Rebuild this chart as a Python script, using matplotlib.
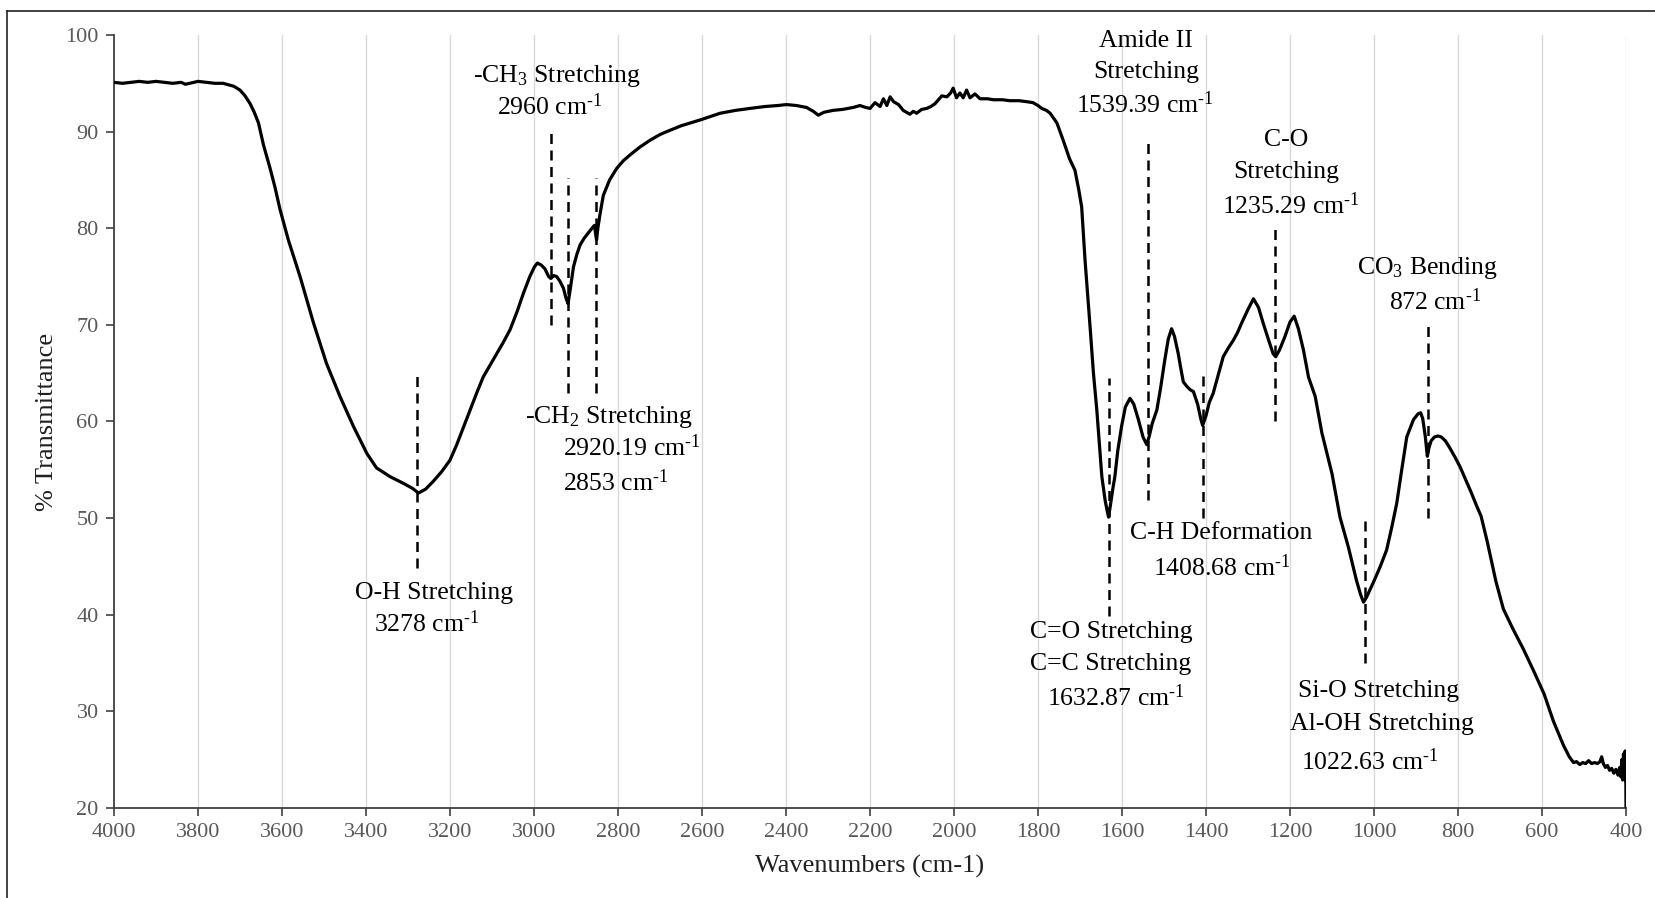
import matplotlib
matplotlib.use("Agg")
import matplotlib.pyplot as plt
from matplotlib.lines import Line2D

plt.rcParams['font.family'] = ['Liberation Serif', 'DejaVu Serif']
plt.rcParams['mathtext.fontset'] = 'custom'
plt.rcParams['mathtext.rm'] = 'Liberation Serif'
plt.rcParams['mathtext.it'] = 'Liberation Serif:italic'
plt.rcParams['mathtext.bf'] = 'Liberation Serif:bold'

# ---------------- data ----------------
wavenumber = [
    4000, 3980, 3960, 3940, 3920, 3900, 3880, 3860, 3840, 3830, 3820, 3800, 3780, 3760,
    3740, 3732, 3715, 3700, 3688, 3676, 3666, 3656, 3644, 3629, 3617, 3605, 3585, 3557,
    3525, 3494, 3462, 3430, 3398, 3375, 3343, 3311, 3290, 3275, 3258,
    3240, 3220, 3200, 3184, 3168, 3152, 3136, 3121, 3105, 3089, 3073, 3057, 3040,
    3025, 3010, 2999, 2992, 2983, 2974, 2965, 2960, 2953, 2946, 2938, 2930, 2924, 2919,
    2914, 2906, 2898, 2890, 2880, 2871, 2862, 2856, 2853, 2851, 2848, 2843, 2835, 2820,
    2803, 2787, 2771, 2748, 2724, 2700, 2684, 2650, 2605, 2557, 2520, 2486, 2450, 2420,
    2399, 2375, 2351, 2335, 2323, 2310, 2288, 2265, 2240, 2224, 2210, 2200, 2188, 2176,
    2168, 2160, 2152, 2144, 2132, 2121, 2105, 2097, 2089, 2077, 2065, 2055, 2045, 2037,
    2029, 2017, 2008, 2002, 1994, 1986, 1978, 1970, 1962, 1950, 1938, 1920, 1906, 1885,
    1867, 1845, 1827, 1812, 1800, 1791, 1780, 1771, 1755, 1740, 1725, 1712, 1703, 1696,
    1688, 1676, 1668, 1660, 1648, 1640, 1636, 1632, 1627, 1622, 1617, 1610, 1601, 1592,
    1581, 1572, 1561, 1550, 1541, 1535, 1528, 1517, 1508, 1498, 1490, 1482, 1475, 1466,
    1460, 1454, 1445, 1438, 1430, 1420, 1412, 1408, 1400, 1392, 1383, 1371, 1359, 1347,
    1335, 1325, 1315, 1300, 1287, 1275, 1264, 1250, 1240, 1234, 1225, 1212, 1200, 1190,
    1180, 1168, 1156, 1140, 1124, 1100, 1081, 1061, 1042, 1032, 1025,
    1018, 1002, 985, 970, 958, 946, 934, 922, 906, 895, 889, 884, 878, 873, 869, 864,
    856, 848, 840, 830, 820, 807, 795, 780, 768, 756, 745, 730, 710, 692, 670, 645,
    620, 595, 573, 549, 535, 525, 518, 510, 503, 496, 489, 482, 475, 468, 462, 458,
    454, 449, 444, 439, 434, 429, 424, 419, 415, 412, 410, 408, 406, 404, 402, 401,
    400.5, 400,
]
transmittance = [
    95.1, 95.0, 95.1, 95.2, 95.1, 95.2, 95.1, 95.0, 95.1, 94.9, 95.0, 95.2, 95.1, 95.0,
    95.0, 94.9, 94.7, 94.3, 93.7, 92.9, 92.0, 90.9, 88.6, 86.3, 84.3, 82.0, 78.8, 75.0,
    70.2, 66.0, 62.6, 59.5, 56.7, 55.2, 54.3, 53.6, 53.1, 52.6, 53.0,
    53.8, 54.8, 56.0, 57.6, 59.4, 61.2, 63.0, 64.6, 65.8, 67.0, 68.2, 69.5, 71.4,
    73.3, 75.0, 76.0, 76.4, 76.2, 75.8, 75.0, 74.8, 75.1, 75.0, 74.5, 73.8, 72.8, 72.2,
    73.6, 76.0, 77.3, 78.3, 79.0, 79.5, 80.0, 80.3, 79.3, 78.8, 80.0, 81.4, 83.4, 85.0,
    86.2, 87.0, 87.6, 88.4, 89.1, 89.7, 90.0, 90.6, 91.2, 91.9, 92.2, 92.4, 92.6, 92.7,
    92.8, 92.7, 92.5, 92.1, 91.7, 92.0, 92.2, 92.3, 92.5, 92.7, 92.5, 92.4, 93.0, 92.6,
    93.4, 92.7, 93.6, 93.1, 92.8, 92.2, 91.8, 92.1, 91.9, 92.3, 92.4, 92.6, 92.9, 93.3,
    93.7, 93.6, 94.0, 94.5, 93.5, 94.0, 93.5, 94.3, 93.5, 93.9, 93.4, 93.4, 93.3, 93.3,
    93.2, 93.2, 93.1, 93.0, 92.7, 92.4, 92.2, 91.9, 90.9, 89.1, 87.2, 86.0, 84.0, 82.2,
    76.7, 69.8, 65.0, 61.2, 54.3, 51.8, 50.9, 50.1, 51.5, 53.0, 54.3, 57.0, 59.5, 61.5,
    62.4, 61.8, 60.2, 58.4, 57.6, 58.5, 59.8, 61.2, 63.5, 66.4, 68.5, 69.6, 68.8, 67.0,
    65.5, 64.1, 63.6, 63.3, 63.1, 61.8, 60.2, 59.6, 60.6, 62.0, 62.9, 64.8, 66.7, 67.6,
    68.4, 69.2, 70.2, 71.6, 72.7, 71.8, 70.2, 68.3, 67.0, 66.7, 67.4, 68.8, 70.3, 70.9,
    69.6, 67.4, 64.6, 62.6, 58.8, 54.6, 50.1, 47.0, 43.6, 42.1, 41.3,
    41.8, 43.3, 45.0, 46.7, 49.0, 51.5, 55.0, 58.4, 60.2, 60.8, 60.9, 60.3, 58.5, 56.4, 57.3, 58.0,
    58.4, 58.5, 58.4, 58.0, 57.3, 56.3, 55.3, 53.8, 52.6, 51.3, 50.2, 47.5, 43.5, 40.6, 38.6, 36.5,
    34.2, 31.8, 29.0, 26.5, 25.3, 24.7, 24.8, 24.5, 24.7, 24.6, 24.9, 24.6, 24.7, 24.6, 24.8, 25.3,
    24.6, 24.2, 24.4, 23.9, 24.1, 23.6, 24.0, 23.4, 24.2, 23.2, 25.0, 22.9, 25.6, 23.2, 25.9, 22.8,
    24.0, 20.2,
]

# dashed marker lines: position, lower end, upper end (in % transmittance)
peak_pos = [3278, 2960, 2920, 2853, 1632, 1539, 1408, 1235, 1022, 872]
peak_low = [44.8, 70.0, 62.9, 62.9, 39.9, 51.9, 50.0, 60.0, 35.0, 50.0]
peak_high = [65.2, 90.2, 85.2, 85.2, 64.5, 89.3, 65.2, 80.2, 50.1, 70.1]

# annotation texts: (text, wavenumber, transmittance)
SUP = r"$^{\text{-}1}$"
labels = [
    ("O-H Stretching", 3238, 42.3),
    ("3278 cm" + SUP, 3256, 39.1),
    ("-CH$_3$ Stretching", 2946, 95.8),
    ("2960 cm" + SUP, 2962, 92.6),
    ("-CH$_2$ Stretching", 2821, 60.5),
    ("2920.19 cm" + SUP, 2768, 57.3),
    ("2853 cm" + SUP, 2806, 53.7),
    ("Amide II", 1543, 99.4),
    ("Stretching", 1543, 96.2),
    ("1539.39 cm" + SUP, 1546, 92.8),
    ("C-O", 1210, 89.1),
    ("Stretching", 1210, 85.8),
    ("1235.29 cm" + SUP, 1198, 82.3),
    ("CO$_3$ Bending", 872, 75.9),
    ("872 cm" + SUP, 855, 72.4),
    ("C-H Deformation", 1365, 48.5),
    ("1408.68 cm" + SUP, 1362, 44.9),
    ("C=O Stretching", 1626, 38.2),
    ("C=C Stretching", 1626, 34.9),
    ("1632.87 cm" + SUP, 1614, 31.4),
    ("Si-O Stretching", 988, 32.1),
    ("Al-OH Stretching", 981, 28.7),
    ("1022.63 cm" + SUP, 1010, 24.8),
]

x_ticks = list(range(4000, 399, -200))
y_ticks = list(range(20, 101, 10))

# ---------------- figure ----------------
W, H = 1656, 898
fig = plt.figure(figsize=(W / 100, H / 100), dpi=100)
ax = fig.add_axes([114 / W, 1 - 808 / H, 1512 / W, 773 / H])

for xt in x_ticks[1:]:
    ax.axvline(xt, color='#d9d9d9', lw=1.0, zorder=0)

ax.plot(wavenumber, transmittance, color='black', lw=2.3, zorder=3,
        solid_joinstyle='round')

for p, lo, hi in zip(peak_pos, peak_low, peak_high):
    ax.plot([p, p], [lo, hi], color='black', lw=1.8,
            linestyle=(0, (4.0, 2.6)), zorder=4)

for txt, xw, yt in labels:
    ax.text(xw, yt, txt, fontsize=18.5, ha='center', va='center', color='black',
            zorder=5)

ax.set_xlim(4000, 400)
ax.set_ylim(20, 100)
ax.set_xticks(x_ticks)
ax.set_yticks(y_ticks)
ax.tick_params(axis='both', direction='out', length=6, width=1.2,
               colors='#404040', labelcolor='#595959', labelsize=16, pad=5)
for s in ['top', 'right']:
    ax.spines[s].set_visible(False)
for s in ['left', 'bottom']:
    ax.spines[s].set_color('#404040')
    ax.spines[s].set_linewidth(1.3)

ax.set_xlabel('Wavenumbers (cm-1)', fontsize=19, color='#202020', labelpad=9)
ax.set_ylabel('% Transmittance', fontsize=19, color='#202020', labelpad=5)

# outer frame
fig.add_artist(Line2D([7 / W, 7 / W], [0, 1 - 10.5 / H], transform=fig.transFigure,
                      color='#222222', lw=1.2))
fig.add_artist(Line2D([7 / W, 1], [1 - 10.5 / H, 1 - 10.5 / H], transform=fig.transFigure,
                      color='#222222', lw=1.2))

fig.savefig('out.png', dpi=100)
